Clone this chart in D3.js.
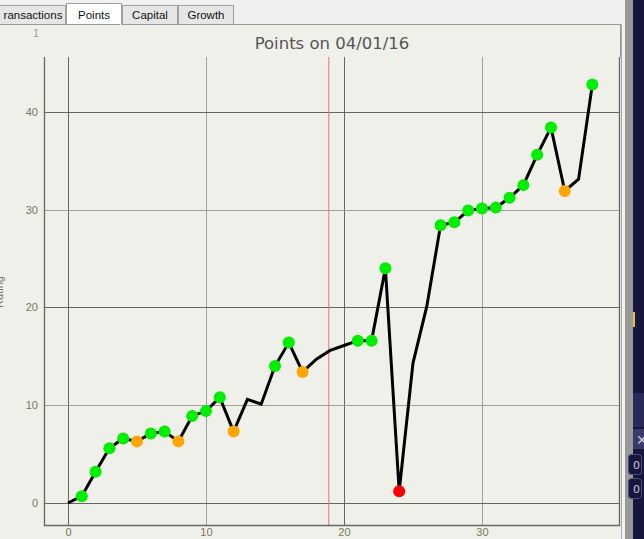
<!DOCTYPE html>
<html><head><meta charset="utf-8">
<script src="https://cdn.jsdelivr.net/npm/d3@7"></script>
<style>html,body{margin:0;padding:0;background:#f0f0ec;overflow:hidden}</style>
</head><body>
<svg id="c" width="644" height="539"></svg>
<script>
const days   = [0,1,2,3,4,5,6,7,8,9,10,11,12,13,14,15,16,17,18,19,20,21,22,23,24,25,26,27,28,29,30,31,32,33,34,35,36,37,38];
const points = [0,0.7,3.2,5.6,6.6,6.3,7.1,7.3,6.3,8.9,9.4,10.8,7.3,10.6,10.1,14.0,16.4,13.4,14.7,15.6,16.1,16.6,16.6,24.0,1.2,14.3,20.1,28.4,28.7,29.9,30.1,30.2,31.2,32.5,35.6,38.4,31.9,33.1,42.8];
const marks  = ["","g","g","g","g","o","g","g","o","g","g","g","o","","","g","g","o","","","","g","g","g","r","","","g","g","g","g","g","g","g","g","g","o","","g"];
const xTicks = [0,10,20,30];
const yTicks = [0,10,20,30,40];
const tabs = ["ransactions","Points","Capital","Growth"];
const title = "Points on 04/01/16";
const todayMark = 18.9;

const markColor = {g:"#00ee00", o:"#ffa500", r:"#ff0000"};
const svg = d3.select("#c");

// tab bar
svg.append("rect").attr("x",0).attr("y",0).attr("width",644).attr("height",26).attr("fill","#f0f0f0");
const tabX = [[-6,66],[66,122],[122,178],[178,234]];
tabs.forEach((t,i)=>{
  const active = i===1;
  const [x0,x1] = tabX[i];
  svg.append("rect").attr("x",x0+0.5).attr("y",active?3.5:5.5).attr("width",x1-x0-1).attr("height",active?22:19)
    .attr("fill",active?"#ffffff":"#e6e6e6").attr("stroke","#a0a0a0");
  svg.append("text").attr("x",(x0+x1)/2+ (i===0?3:0)).attr("y",19).attr("text-anchor","middle")
    .attr("font-family","Liberation Sans, Arial, sans-serif").attr("font-size",11.5).attr("fill","#111").text(t);
});

// panel
svg.append("rect").attr("x",-2).attr("y",25).attr("width",624).attr("height",520).attr("fill","#f0f0ea");
svg.append("line").attr("x1",0).attr("x2",622).attr("y1",24.5).attr("y2",24.5).attr("stroke","#999");
svg.append("rect").attr("x",120).attr("y",23.5).attr("width",1).attr("height",2).attr("fill","#fff");
svg.append("line").attr("x1",621.5).attr("x2",621.5).attr("y1",24).attr("y2",539).attr("stroke","#aaa");
svg.append("line").attr("x1",620.5).attr("x2",620.5).attr("y1",25).attr("y2",57).attr("stroke","#999");
svg.append("rect").attr("x",622).attr("y",0).attr("width",4).attr("height",539).attr("fill","#f2f2f2");
svg.append("rect").attr("x",625).attr("y",0).attr("width",8).attr("height",539).attr("fill","#999999");
svg.append("rect").attr("x",633).attr("y",0).attr("width",11).attr("height",539).attr("fill","#16163e");
svg.append("rect").attr("x",633).attr("y",312).attr("width",2).attr("height",15).attr("fill","#e0c040");
svg.append("rect").attr("x",633).attr("y",393).attr("width",11).attr("height",34).attr("fill","#2a2a5a");
svg.append("rect").attr("x",633).attr("y",429).attr("width",11).attr("height",20).attr("fill","#3a3a66");
svg.append("text").attr("x",636).attr("y",445).attr("font-family","DejaVu Sans").attr("font-size",14).attr("fill","#c8c8d8").text("✕");
[454,478].forEach(y=>{
  svg.append("rect").attr("x",628.5).attr("y",y+0.5).attr("width",13).attr("height",20).attr("rx",3).attr("fill","#16163e").attr("stroke","#50507a");
  svg.append("text").attr("x",633).attr("y",y+15).attr("font-family","DejaVu Sans").attr("font-size",11).attr("fill","#c8c8d8").text("0");
});

// scales
const x = d3.scaleLinear().domain([-1.74,39.93]).range([44,619]);
const y = d3.scaleLinear().domain([-2.25,45.6]).range([525,57]);

// small label and rotated clipped label
svg.append("text").attr("x",36).attr("y",37).attr("text-anchor","middle").attr("font-family","Liberation Sans, Arial").attr("font-size",10).attr("fill","#999").text("1");
svg.append("text").attr("transform","translate(3,292) rotate(-90)").attr("text-anchor","middle")
  .attr("font-family","Liberation Sans, Arial").attr("font-size",11).attr("fill","#77775f").text("Rating");

// title
svg.append("text").attr("x",332).attr("y",49).attr("text-anchor","middle").attr("font-family","DejaVu Sans, sans-serif")
  .attr("font-size",16.5).attr("fill","#555").text(title);

// grid
const g = svg.append("g");
xTicks.forEach(t=>{
  g.append("line").attr("x1",Math.round(x(t))+0.5).attr("x2",Math.round(x(t))+0.5).attr("y1",57).attr("y2",525)
   .attr("stroke", t%20===0?"#666":"#a0a0a0").attr("stroke-width",1);
});
yTicks.forEach(t=>{
  g.append("line").attr("x1",44).attr("x2",619).attr("y1",Math.round(y(t))+0.5).attr("y2",Math.round(y(t))+0.5)
   .attr("stroke", t%20===0?"#666":"#a0a0a0").attr("stroke-width",1);
});
g.append("line").attr("x1",x(todayMark)).attr("x2",x(todayMark)).attr("y1",57).attr("y2",525).attr("stroke","#f07070").attr("stroke-width",1);

// frame
g.append("path").attr("d",`M44.5,57 V525.5 H619.5 V57`).attr("fill","none").attr("stroke","#666").attr("stroke-width",1.3);

// axes labels
const xAxis = d3.axisBottom(x).tickValues(xTicks).tickSize(0).tickPadding(0).tickFormat(d3.format("d"));
const xa = svg.append("g").attr("transform","translate(0,527)").call(xAxis);
xa.select(".domain").remove();
xa.selectAll("text").attr("font-family","Liberation Sans, Arial").attr("font-size",11).attr("fill","#77775f").attr("dy","0.85em");
const yAxis = d3.axisLeft(y).tickValues(yTicks).tickSize(0).tickPadding(6).tickFormat(d3.format("d"));
const ya = svg.append("g").attr("transform","translate(44,0)").call(yAxis);
ya.select(".domain").remove();
ya.selectAll("text").attr("font-family","Liberation Sans, Arial").attr("font-size",11).attr("fill","#77775f");

// line
const data = days.map((d,i)=>({d, v:points[i], m:marks[i]}));
svg.append("path").datum(data).attr("fill","none").attr("stroke","#000").attr("stroke-width",3).attr("stroke-linejoin","miter")
  .attr("d", d3.line().x(p=>x(p.d)).y(p=>y(p.v)));

// dots
svg.selectAll("circle.pt").data(data.filter(p=>p.m)).join("circle").attr("class","pt")
  .attr("cx",p=>x(p.d)).attr("cy",p=>y(p.v)).attr("r",6).attr("fill",p=>markColor[p.m]);
</script>
</body></html>
